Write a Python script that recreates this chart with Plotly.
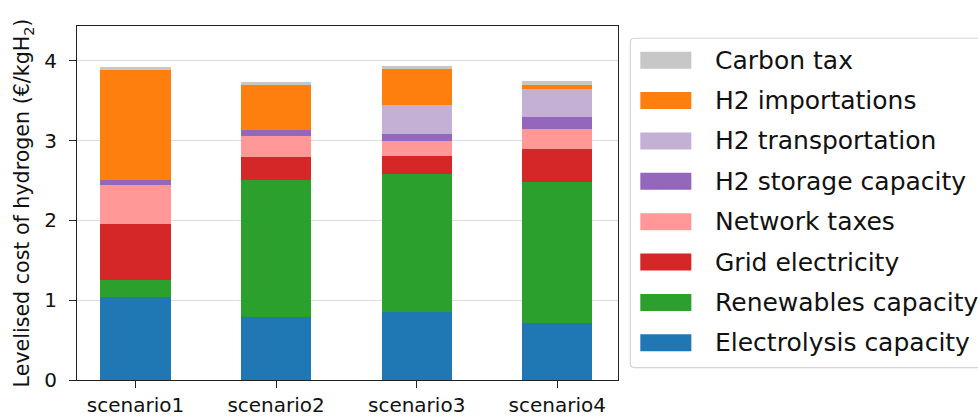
import plotly.graph_objects as go

# ---------------- data ----------------
scenarios = ["scenario1", "scenario2", "scenario3", "scenario4"]

electrolysis_capacity = [1.04, 0.79, 0.85, 0.715]
renewables_capacity = [0.21, 1.71, 1.73, 1.765]
grid_electricity = [0.71, 0.29, 0.23, 0.42]
network_taxes = [0.48, 0.27, 0.19, 0.25]
h2_storage_capacity = [0.07, 0.075, 0.08, 0.14]
h2_transportation = [0.0, 0.0, 0.36, 0.36]
h2_importations = [1.37, 0.555, 0.46, 0.04]
carbon_tax = [0.04, 0.04, 0.04, 0.06]

# stacking order: bottom -> top
series_names = [
    "Electrolysis capacity",
    "Renewables capacity",
    "Grid electricity",
    "Network taxes",
    "H2 storage capacity",
    "H2 transportation",
    "H2 importations",
    "Carbon tax",
]
series_values = [
    electrolysis_capacity,
    renewables_capacity,
    grid_electricity,
    network_taxes,
    h2_storage_capacity,
    h2_transportation,
    h2_importations,
    carbon_tax,
]
series_colors = [
    "#1f77b4",
    "#2ca02c",
    "#d62728",
    "#ff9896",
    "#9467bd",
    "#c5b0d5",
    "#ff7f0e",
    "#c7c7c7",
]
y_ticks = [0, 1, 2, 3, 4]

# ---------------- layout geometry (pixels) ----------------
W, H = 978, 416
ML, MR, MT, MB = 77, 360.3, 25.7, 35.5
PW = W - ML - MR
PH = H - MT - MB

FONT = "DejaVu Sans"
TXT = "#111111"

fig = go.Figure()
for name, vals, col in zip(series_names, series_values, series_colors):
    fig.add_trace(go.Bar(
        x=scenarios, y=vals, name=name,
        marker=dict(color=col, line=dict(width=0)),
        width=0.5, showlegend=False,
    ))

fig.update_layout(
    barmode="stack",
    width=W, height=H,
    margin=dict(l=ML, r=MR, t=MT, b=MB, autoexpand=False),
    paper_bgcolor="white", plot_bgcolor="white",
    font=dict(family=FONT, size=20, color=TXT),
)
fig.update_xaxes(
    range=[-0.416, 3.432],
    showline=True, linecolor="#222", linewidth=1.2, mirror=True,
    ticks="outside", ticklen=7, tickwidth=1.2, tickcolor="#222",
    showgrid=False, tickfont=dict(size=20, color=TXT),
)
fig.update_yaxes(
    range=[0, PH / 80.0],
    tickvals=y_ticks,
    showline=True, linecolor="#222", linewidth=1.2, mirror=True,
    ticks="outside", ticklen=7, tickwidth=1.2, tickcolor="#222",
    ticklabelstandoff=8,
    showgrid=True, gridcolor="#dedede", gridwidth=1,
    zeroline=False,
    tickfont=dict(size=20, color=TXT),
    title=dict(text="Levelised cost of hydrogen (€/kgH<sub>2</sub>)",
               font=dict(size=20.6, color=TXT), standoff=8),
)

# ---------------- manual legend (matplotlib-style) ----------------
def px(x):
    return (x - ML) / PW

def py(y):
    return 1 - (y - MT) / PH

# frame
x0, x1, y0, y1, r = 630, 995, 38, 368, 4
path = (
    f"M {px(x0 + r)},{py(y0)} L {px(x1 - r)},{py(y0)} "
    f"Q {px(x1)},{py(y0)} {px(x1)},{py(y0 + r)} "
    f"L {px(x1)},{py(y1 - r)} Q {px(x1)},{py(y1)} {px(x1 - r)},{py(y1)} "
    f"L {px(x0 + r)},{py(y1)} Q {px(x0)},{py(y1)} {px(x0)},{py(y1 - r)} "
    f"L {px(x0)},{py(y0 + r)} Q {px(x0)},{py(y0)} {px(x0 + r)},{py(y0)} Z"
)
fig.add_shape(type="path", path=path, xref="paper", yref="paper",
              line=dict(color="#d4d4d4", width=1.2), fillcolor="rgba(255,255,255,0.8)",
              layer="above")

legend_order = list(range(len(series_names)))[::-1]
for i, k in enumerate(legend_order):
    cy = 60 + 40.46 * i
    fig.add_shape(type="rect", xref="paper", yref="paper",
                  x0=px(640), x1=px(691), y0=py(cy - 8.5), y1=py(cy + 8.5),
                  fillcolor=series_colors[k], line=dict(width=0), layer="above")
    fig.add_annotation(x=px(713), y=py(cy), xref="paper", yref="paper",
                       text=series_names[k], showarrow=False,
                       xanchor="left", yanchor="middle",
                       font=dict(size=25, color=TXT, family=FONT))

fig.write_html(
    "out.html",
    config={"displayModeBar": False},
    post_script="document.body.style.margin='0';document.body.style.overflow='hidden';",
)
